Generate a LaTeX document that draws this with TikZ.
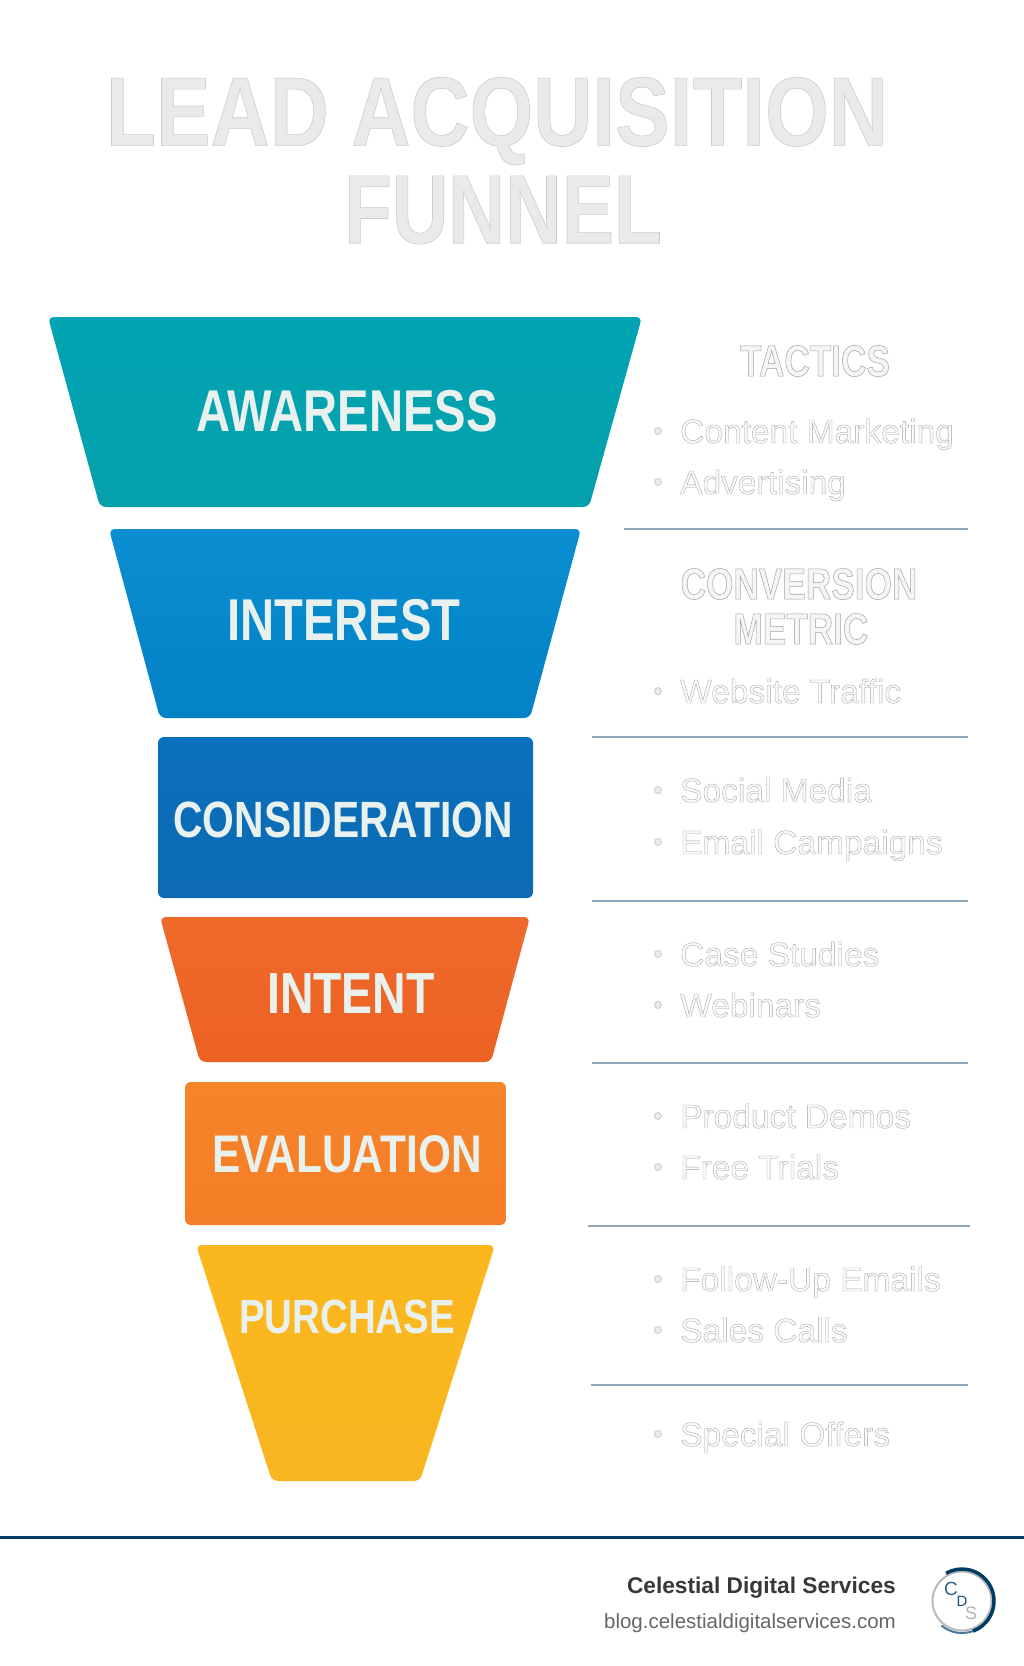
\documentclass[tikz,border=0pt]{standalone}
\usepackage{fontspec}
\setmainfont{Liberation Sans}
\newfontfamily\condfont[FakeStretch=0.8]{Liberation Sans}
\newfontfamily\titlefont[FakeStretch=0.835]{Liberation Sans}
\usetikzlibrary{arrows}

\definecolor{awaretop}{HTML}{02A3B2}
\definecolor{awarebot}{HTML}{04A1AC}
\definecolor{interesttop}{HTML}{0A8ED1}
\definecolor{interestbot}{HTML}{0482C6}
\definecolor{considertop}{HTML}{0A6FBC}
\definecolor{considerbot}{HTML}{0C6BB2}
\definecolor{intenttop}{HTML}{EF6A2A}
\definecolor{intentbot}{HTML}{EC6224}
\definecolor{evaltop}{HTML}{F68428}
\definecolor{evalbot}{HTML}{F47E27}
\definecolor{purchasetop}{HTML}{FAB81E}
\definecolor{purchasebot}{HTML}{F9B620}
\definecolor{stagetext}{HTML}{E9F1EF}
\definecolor{ghostfill}{HTML}{E9EBEB}
\definecolor{sepline}{HTML}{8FA6B8}
\definecolor{navy}{HTML}{003C64}

% thin stroked letters, as the pale texts on the right
\newcommand{\hollow}[3][0.64]{\special{pdf:code 2 Tr #2 w #1 #1 #1 RG}#3\special{pdf:code 0 Tr}}

\begin{document}
\begin{tikzpicture}[x=1pt,y=-1pt,
		stage/.style={rounded corners=6pt},
		stage label/.style={text=stagetext,font=\condfont\bfseries\fontsize{59}{61}\selectfont},
		title label/.style={text=ghostfill,font=\titlefont\bfseries\fontsize{98}{100}\selectfont},
		head label/.style={text=black!4,font=\condfont\bfseries\fontsize{44}{46}\selectfont},
		item label/.style={text=black!2,anchor=base west,inner sep=0pt,font=\fontsize{33.5}{36}\selectfont},
		dot/.style={circle,draw=black!28,fill=black!8,line width=0.5pt,inner sep=0pt,minimum size=7pt},
		sep/.style={draw=sepline,line width=1.2pt}]
	\useasboundingbox (0,0) rectangle (1024,1666);

	\node[title label] (title1) at (497,121) {\hollow[0.8]{0.6}{LEAD ACQUISITION}};
	\node[title label,font=\condfont\bfseries\fontsize{98}{100}\selectfont] (title2) at (503,210) {\hollow[0.8]{0.6}{FUNNEL}};

	% funnel
	\shade[stage,top color=awaretop,bottom color=awarebot] (48,317) -- (642,317) -- (589,507) -- (100,507) -- cycle;
	\shade[stage,top color=interesttop,bottom color=interestbot] (109,529) -- (581,529) -- (530,718) -- (160,718) -- cycle;
	\shade[stage,top color=considertop,bottom color=considerbot] (158,737) -- (533,737) -- (533,898) -- (158,898) -- cycle;
	\shade[stage,top color=intenttop,bottom color=intentbot] (160,917) -- (530,917) -- (491,1062) -- (200,1062) -- cycle;
	\shade[stage,top color=evaltop,bottom color=evalbot] (185,1082) -- (506,1082) -- (506,1225) -- (185,1225) -- cycle;
	\shade[stage,top color=purchasetop,bottom color=purchasebot] (196,1245) -- (495,1245) -- (420,1481) -- (272,1481) -- cycle;

	\node[stage label] (awareness) at (347,411) {AWARENESS};
	\node[stage label] (interest) at (344,620) {INTEREST};
	\node[stage label,font=\condfont\bfseries\fontsize{51}{53}\selectfont] (consideration) at (343,820) {CONSIDERATION};
	\node[stage label,font=\condfont\bfseries\fontsize{58}{60}\selectfont] (intent) at (351,994) {INTENT};
	\node[stage label,font=\condfont\bfseries\fontsize{53}{55}\selectfont] (evaluation) at (347,1154) {EVALUATION};
	\node[stage label,font=\condfont\bfseries\fontsize{48}{50}\selectfont] (purchase) at (347,1317) {PURCHASE};

	% right column
	\node[head label] (tactics) at (815,361) {\hollow{0.5}{TACTICS}};
	\node[head label] (conversion) at (799,584) {\hollow{0.5}{CONVERSION}};
	\node[head label] (metric) at (801,629) {\hollow{0.5}{METRIC}};

	\node[dot] (b1) at (658,431) {};
	\node[dot] (b2) at (658,482) {};
	\node[dot] (b3) at (658,691) {};
	\node[dot] (b4) at (658,790) {};
	\node[dot] (b5) at (658,842) {};
	\node[dot] (b6) at (658,954) {};
	\node[dot] (b7) at (658,1005) {};
	\node[dot] (b8) at (658,1116) {};
	\node[dot] (b9) at (658,1167) {};
	\node[dot] (b10) at (658,1279) {};
	\node[dot] (b11) at (658,1330) {};
	\node[dot] (b12) at (658,1434) {};

	\node[item label] (i1) at (680,443) {\hollow{0.35}{Content Marketing}};
	\node[item label] (i2) at (680,494) {\hollow{0.35}{Advertising}};
	\node[item label] (i3) at (680,703) {\hollow{0.35}{Website Traffic}};
	\node[item label] (i4) at (680,802) {\hollow{0.35}{Social Media}};
	\node[item label] (i5) at (680,854) {\hollow{0.35}{Email Campaigns}};
	\node[item label] (i6) at (680,966) {\hollow{0.35}{Case Studies}};
	\node[item label] (i7) at (680,1017) {\hollow{0.35}{Webinars}};
	\node[item label] (i8) at (680,1128) {\hollow{0.35}{Product Demos}};
	\node[item label] (i9) at (680,1179) {\hollow{0.35}{Free Trials}};
	\node[item label] (i10) at (680,1291) {\hollow{0.35}{Follow-Up Emails}};
	\node[item label] (i11) at (680,1342) {\hollow{0.35}{Sales Calls}};
	\node[item label] (i12) at (680,1446) {\hollow{0.35}{Special Offers}};

	\draw[sep] (624,529) -- (968,529);
	\draw[sep] (592,737) -- (968,737);
	\draw[sep] (592,901) -- (968,901);
	\draw[sep] (592,1063) -- (968,1063);
	\draw[sep] (588,1226) -- (970,1226);
	\draw[sep] (591,1385) -- (968,1385);

	% footer
	\draw[navy,line width=3pt] (0,1537) -- (1024,1537);
	\node[anchor=base east,inner sep=0pt,text=black!78,font=\bfseries\fontsize{22.7}{25}\selectfont] (company) at (896,1593) {Celestial Digital Services};
	\node[anchor=base east,inner sep=0pt,text=black!60,font=\fontsize{20.5}{23}\selectfont] (blog) at (896,1628) {blog.celestialdigitalservices.com};

	\node[circle,draw=black!28,line width=2pt,minimum size=59pt,inner sep=0pt] (logo) at (962,1601) {};
	\draw[navy,line width=3.5pt] (logo.center) ++(70:32) arc (70:-120:32);
	\draw[navy!70,line width=2pt] (logo.center) ++(70:32) arc (70:130:32);
	\node[inner sep=0pt,text=navy!80,font=\fontsize{19}{19}\selectfont] (logoc) at (951,1589) {C};
	\node[inner sep=0pt,text=navy!90,font=\fontsize{15}{15}\selectfont] (logod) at (962,1601) {D};
	\node[inner sep=0pt,text=black!30,font=\fontsize{18}{18}\selectfont] (logos) at (971,1613) {S};
\end{tikzpicture}
\end{document}
